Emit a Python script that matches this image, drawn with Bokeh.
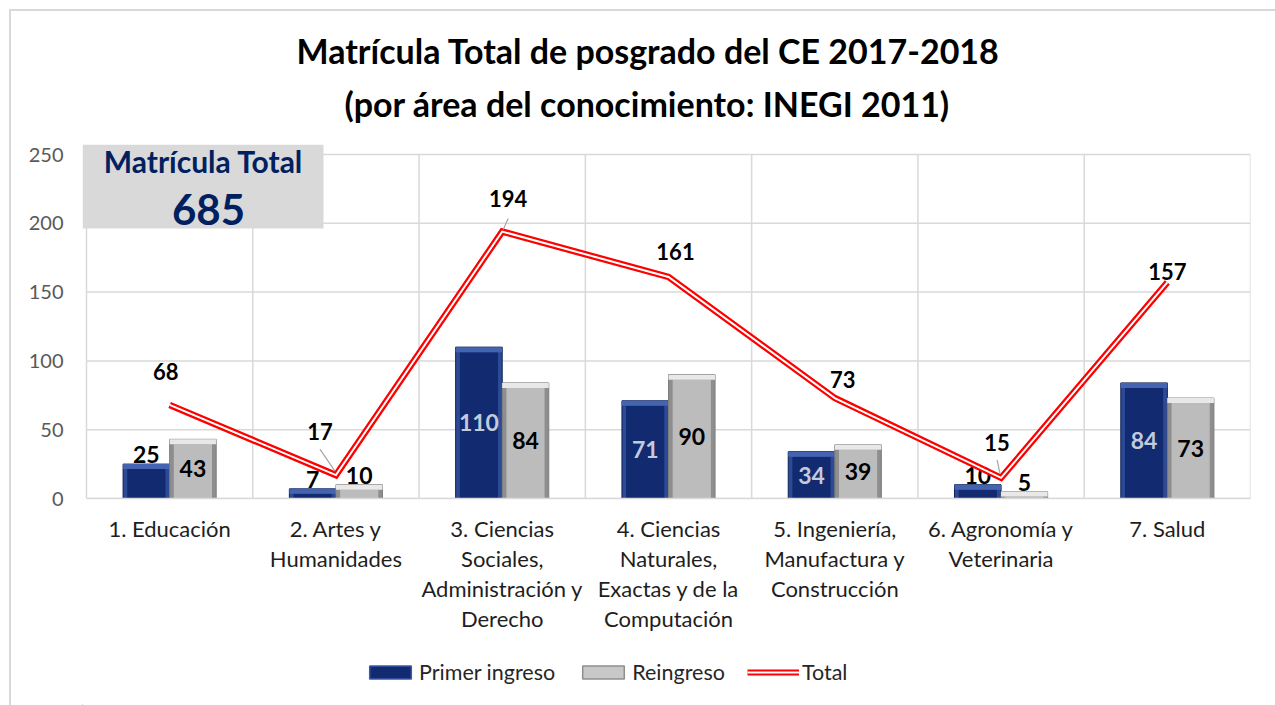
from bokeh.plotting import figure
from bokeh.layouts import column
from bokeh.models import (Range1d, FixedTicker, Label, BoxAnnotation, Legend,
                          LegendItem, ColumnDataSource, Title)
from bokeh.embed import file_html
from bokeh.resources import INLINE
from bokeh.core.properties import value

# ---------------- data ----------------
categories = ["1. Educación",
              "2. Artes y\nHumanidades",
              "3. Ciencias\nSociales,\nAdministración y\nDerecho",
              "4. Ciencias\nNaturales,\nExactas y de la\nComputación",
              "5. Ingeniería,\nManufactura y\nConstrucción",
              "6. Agronomía y\nVeterinaria",
              "7. Salud"]
primer_ingreso = [25, 7, 110, 71, 34, 10, 84]
reingreso = [43, 10, 84, 90, 39, 5, 73]
total = [68, 17, 194, 161, 73, 15, 157]
y_ticks = [0, 50, 100, 150, 200, 250]
matricula_total = 685
title_lines = ["Matrícula Total de posgrado del CE 2017-2018",
               "(por área del conocimiento: INEGI 2011)"]
series_names = ["Primer ingreso", "Reingreso", "Total"]

# ---------------- styling / layout ----------------
FONT = "Lato"
total_label_dx = [-4, -16, 6, 7, 8, -4, 0]
total_label_dy = [-33, -44, -33, -25, -19, -35, -11]
leaders = {1: ((-16, -26), (-1, -4)), 2: ((6, -13), (1, -2)), 5: ((-4, -18), (-1, -4))}

W, H1, H2 = 1264, 634, 60
ML, MR, MT, MB = 71, 25, 133, 147
PAD_L, PAD_T = 4, 10          # frame extends this far (px) beyond the plot grid
frame_w = W - ML - MR
frame_h = H1 - MT - MB
n = len(categories)
ymax = y_ticks[-1]
xpp = n / (frame_w - PAD_L)
ypp = ymax / (frame_h - PAD_T)

p = figure(width=W, height=H1,
           x_range=Range1d(-PAD_L * xpp, n), y_range=Range1d(0, ymax + PAD_T * ypp),
           output_backend="svg", toolbar_location=None,
           min_border_left=ML, min_border_right=MR, min_border_top=MT,
           min_border_bottom=MB)
p.outline_line_color = None
p.background_fill_color = "white"
p.border_fill_color = "white"

centers = [i + 0.5 for i in range(n)]

# axes
p.xaxis.ticker = FixedTicker(ticks=centers)
p.xaxis.bounds = (0, n)
p.xaxis.major_label_overrides = {c: lab for c, lab in zip(centers, categories)}
p.xaxis.axis_line_color = "#d9d9d9"
p.xaxis.axis_line_width = 1.5
p.xaxis.major_tick_line_color = None
p.xaxis.minor_tick_line_color = None
p.xaxis.major_label_text_font = FONT
p.xaxis.major_label_text_font_size = "22px"
p.xaxis.major_label_text_color = "#1e1e1e"
p.xaxis.major_label_text_line_height = 1.12
p.xaxis.major_label_standoff = 10

p.yaxis.ticker = FixedTicker(ticks=y_ticks)
p.yaxis.bounds = (0, ymax)
p.yaxis.axis_line_color = None
p.yaxis.major_tick_line_color = None
p.yaxis.minor_tick_line_color = None
p.yaxis.major_label_text_font = FONT
p.yaxis.major_label_text_font_size = "20px"
p.yaxis.major_label_text_color = "#595959"
p.yaxis.major_label_standoff = 13

p.xgrid.visible = False
p.ygrid.visible = False
p.segment(x0=[0] * len(y_ticks), x1=[n] * len(y_ticks), y0=y_ticks, y1=y_ticks,
          line_color="#d9d9d9", line_width=1.5)
bounds = list(range(n + 1))
p.segment(x0=bounds, x1=bounds, y0=[0] * len(bounds), y1=[ymax] * len(bounds),
          line_color="#d9d9d9", line_width=1.5)

# bars
bw = 0.28
off = 0.14
band = 5 * ypp


def bevel_bars(xs, vals, edge, center, top, line):
    src = ColumnDataSource(dict(x=xs, top=vals,
                                inner_top=[max(v - band, 0) for v in vals],
                                band_bottom=[max(v - band, 0) for v in vals]))
    p.vbar(x="x", top="top", width=bw, source=src, fill_color=edge,
           line_color=line, line_width=1)
    p.vbar(x="x", top="inner_top", width=bw * 0.82, source=src,
           fill_color=center, line_color=None)
    p.vbar(x="x", top="top", bottom="band_bottom", width=bw, source=src,
           fill_color=top, line_color=None)


xb = [c - off for c in centers]
xg = [c + off for c in centers]
bevel_bars(xb, primer_ingreso, "#2c4a96", "#112a70", "#4463b0", "#0c1f55")
bevel_bars(xg, reingreso, "#8e8e8e", "#bcbcbc", "#e8e8e8", "#7d7d7d")


def bar_labels(xs, vals, inside_color):
    ys, txt, cols, base, yo = [], [], [], [], []
    for v in vals:
        if v >= 30:
            ys.append(v / 2); base.append("middle"); cols.append(inside_color); yo.append(0)
        else:
            ys.append(v); base.append("bottom"); cols.append("black"); yo.append(-1)
        txt.append(str(v))
    src = ColumnDataSource(dict(x=xs, y=ys, t=txt, c=cols, b=base, yo=yo))
    p.text(x="x", y="y", text="t", text_color="c", text_baseline="b",
           y_offset="yo", text_align="center", text_font=value(FONT),
           text_font_style="bold", text_font_size="23px", source=src)


bar_labels(xb, primer_ingreso, "#c3cadb")
bar_labels(xg, reingreso, "black")

# total line (double red line)
p.line(centers, total, line_color="#ff0000", line_width=6.5, line_join="miter")
p.line(centers, total, line_color="white", line_width=2, line_join="miter")

for i, ((ax, ay), (bx, by)) in leaders.items():
    p.segment(x0=[centers[i] + ax * xpp], y0=[total[i] - ay * ypp],
              x1=[centers[i] + bx * xpp], y1=[total[i] - by * ypp],
              line_color="#a6a6a6", line_width=1.2)

tsrc = ColumnDataSource(dict(x=centers, y=total, t=[str(v) for v in total],
                             dx=total_label_dx, dy=total_label_dy))
p.text(x="x", y="y", text="t", x_offset="dx", y_offset="dy",
       text_align="center", text_baseline="middle", text_font=value(FONT),
       text_font_style="bold", text_font_size="22px", text_color="black",
       source=tsrc)

# total box (frame-relative screen units, y up)
box = BoxAnnotation(left=0, right=241, top=frame_h, bottom=frame_h - 84,
                    left_units="screen", right_units="screen",
                    top_units="screen", bottom_units="screen",
                    fill_color="#d9d9d9", fill_alpha=1, line_color=None)
p.add_layout(box)
p.add_layout(Label(x=121, y=frame_h - 16, x_units="screen", y_units="screen",
                   text="Matrícula Total", text_align="center",
                   text_baseline="middle", text_font=FONT,
                   text_font_style="bold", text_font_size="30px",
                   text_color="#002060"))
p.add_layout(Label(x=126, y=frame_h - 65, x_units="screen", y_units="screen",
                   text=str(matricula_total), text_align="center",
                   text_baseline="middle", text_font=FONT,
                   text_font_style="bold", text_font_size="42px",
                   text_color="#002060"))

# title (second line first: it sits next to the frame)
p.title.visible = False
for txt, offx, stand in reversed(list(zip(title_lines, [214, 262], [-22, 42]))):
    p.add_layout(Title(text=txt, align="left", offset=offx, text_font=FONT,
                       text_font_style="bold", text_font_size="34px",
                       text_color="black", standoff=stand), "above")

# legend strip below the chart (icon renderers hold points outside the view)
p2 = figure(width=W, height=H2, x_range=Range1d(0, 1), y_range=Range1d(0, 1),
            output_backend="svg", toolbar_location=None,
            x_axis_location=None, y_axis_location=None,
            min_border_left=0, min_border_right=0, min_border_top=0,
            min_border_bottom=0)
p2.outline_line_color = None
p2.grid.visible = False
p2.axis.visible = False
hidden = ColumnDataSource(dict(x=[-6, -5], top=[-5, -5]))
lb = p2.vbar(x="x", top="top", width=0.1, source=hidden, fill_color="#112a70",
             line_color="#3a59a8", line_width=1.5)
lg = p2.vbar(x="x", top="top", width=0.1, source=hidden, fill_color="#c8c8c8",
             line_color="#8e8e8e", line_width=1.5)
lr = p2.line(x="x", y="top", source=hidden, line_color="#ff0000", line_width=6)
lw = p2.line(x="x", y="top", source=hidden, line_color="white", line_width=2)
legend = Legend(items=[LegendItem(label=series_names[0], renderers=[lb]),
                       LegendItem(label=series_names[1], renderers=[lg]),
                       LegendItem(label=series_names[2], renderers=[lr, lw])],
                location=(282, 20), orientation="horizontal",
                glyph_width=52, glyph_height=16, label_text_font=FONT,
                label_text_font_size="21.5px", label_text_color="#262626",
                spacing=22, padding=0, margin=0, border_line_color=None,
                background_fill_alpha=0, label_standoff=3)
p2.add_layout(legend)

layout = column(p, p2, spacing=0,
                styles={"border-left": "2px solid #d9d9d9",
                        "border-top": "2px solid #d9d9d9",
                        "margin-left": "9px", "margin-top": "9px"})

open("out.html", "w").write(file_html(layout, INLINE))
